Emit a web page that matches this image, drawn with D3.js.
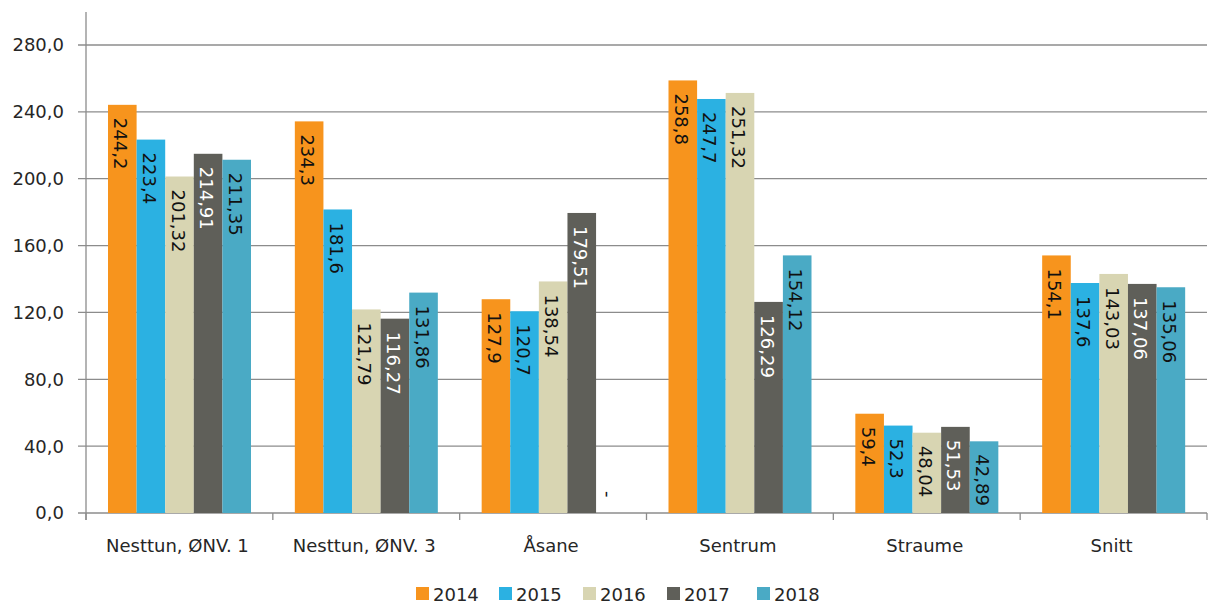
<!DOCTYPE html>
<html><head><meta charset="utf-8">
<script src="https://cdn.jsdelivr.net/npm/d3@7"></script>
<style>body{margin:0;background:#fff}svg{display:block}</style>
</head><body>
<svg id="c" width="1209" height="603"></svg>
<script>
const categories = ["Nesttun, ØNV. 1", "Nesttun, ØNV. 3", "Åsane", "Sentrum", "Straume", "Snitt"];
const years = ["2014", "2015", "2016", "2017", "2018"];
const v2014 = [244.2, 234.3, 127.9, 258.8, 59.4, 154.1];
const v2015 = [223.4, 181.6, 120.7, 247.7, 52.3, 137.6];
const v2016 = [201.32, 121.79, 138.54, 251.32, 48.04, 143.03];
const v2017 = [214.91, 116.27, 179.51, 126.29, 51.53, 137.06];
const v2018 = [211.35, 131.86, null, 154.12, 42.89, 135.06];
const yTicks = [0, 40, 80, 120, 160, 200, 240, 280];
const colors = ["#F7941D", "#2BB1E2", "#D8D5B2", "#5F5F59", "#4AAAC5"];
const labelColors = ["#111", "#111", "#111", "#fff", "#111"];

const series = [v2014, v2015, v2016, v2017, v2018];
const svg = d3.select("#c");
const font = "'DejaVu Sans', sans-serif";
const fs = 18;
const pLeft = 86, pRight = 1207, pTop = 45, pBottom = 513;

const x0 = d3.scaleBand().domain(categories).range([pLeft, pRight]).padding(0);
const x1 = d3.scaleBand().domain(years).range([22, 165]).padding(0);
const y = d3.scaleLinear().domain([0, 280]).range([pBottom, pTop]);

// gridlines
svg.append("g").selectAll("line").data(yTicks).join("line")
  .attr("x1", pLeft - 8).attr("x2", pRight).attr("y1", d => y(d)).attr("y2", d => y(d))
  .attr("stroke", "#8c8c8c").attr("stroke-width", 1.3);

// y axis line
svg.append("line").attr("x1", pLeft).attr("x2", pLeft).attr("y1", 12).attr("y2", pBottom + 7)
  .attr("stroke", "#8c8c8c").attr("stroke-width", 1.3);

// y tick labels
svg.append("g").selectAll("text").data(yTicks).join("text")
  .attr("x", 64).attr("y", d => y(d)).attr("dy", "0.36em").attr("text-anchor", "end")
  .attr("font-family", font).attr("font-size", fs).attr("fill", "#262626")
  .text(d => d.toFixed(1).replace(".", ","));

// category ticks
const bounds = categories.map(c => x0(c)).concat([pRight]);
svg.append("g").selectAll("line").data(bounds).join("line")
  .attr("x1", d => d).attr("x2", d => d).attr("y1", pBottom).attr("y2", pBottom + 7)
  .attr("stroke", "#8c8c8c").attr("stroke-width", 1.3);

// category labels
svg.append("g").selectAll("text").data(categories).join("text")
  .attr("x", d => x0(d) + x0.bandwidth() / 2 - 2).attr("y", 552).attr("text-anchor", "middle")
  .attr("font-family", font).attr("font-size", fs).attr("fill", "#262626")
  .text(d => d);

// bars
const bars = [];
categories.forEach((c, ci) => years.forEach((yr, si) => {
  bars.push({c, yr, si, v: series[si][ci]});
}));

const g = svg.append("g");
g.selectAll("rect").data(bars.filter(d => d.v != null)).join("rect")
  .attr("x", d => x0(d.c) + x1(d.yr)).attr("width", x1.bandwidth())
  .attr("y", d => y(d.v)).attr("height", d => y(0) - y(d.v))
  .attr("fill", d => colors[d.si]);

// value labels (rotated 90° clockwise, inside end)
g.selectAll("text").data(bars).join("text")
  .attr("transform", d => {
    const cx = x0(d.c) + x1(d.yr) + x1.bandwidth() / 2 - 1.5;
    const ty = d.v == null ? y(0) - 22 : y(d.v) + 13;
    return `translate(${cx},${ty}) rotate(90)`;
  })
  .attr("dy", "0.36em").attr("text-anchor", "start")
  .attr("font-family", font).attr("font-size", fs)
  .attr("fill", d => labelColors[d.si])
  .text(d => d.v == null ? "-" : String(d.v).replace(".", ","));

// legend
const lx = [416, 499, 583, 667, 757];
const lg = svg.append("g").selectAll("g").data(years).join("g")
  .attr("transform", (d, i) => `translate(${lx[i]},587)`);
lg.append("rect").attr("width", 13).attr("height", 13).attr("fill", (d, i) => colors[i]);
lg.append("text").attr("x", 17).attr("y", 13.5).attr("font-family", font).attr("font-size", fs)
  .attr("fill", "#262626").text(d => d);
</script>
</body></html>
